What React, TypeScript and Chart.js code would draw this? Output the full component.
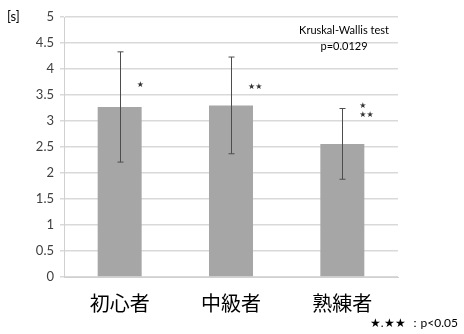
import React, { useEffect, useRef } from "react";
import { Chart, registerables } from "chart.js";

Chart.register(...registerables);

// Mean reaction time per skill group, with standard deviation
const categories = ["初心者", "中級者", "熟練者"];
const meanTimes = [3.27, 3.3, 2.56];
const sdTimes = [1.06, 0.93, 0.68];
const starMarks = [["★"], ["★★"], ["★", "★★"]];
const yTicks = [0, 0.5, 1, 1.5, 2, 2.5, 3, 3.5, 4, 4.5, 5];

const NUM_FONT = "Lato, 'Noto Sans', sans-serif";
const CJK_FONT = "'Noto Sans CJK JP', sans-serif";

const annotate = {
  id: "annotate",
  afterDatasetsDraw(chart: any) {
    const { ctx, scales } = chart;
    const y = scales.y;
    const meta = chart.getDatasetMeta(0);
    ctx.save();
    // error bars
    ctx.strokeStyle = "#4d4d4d";
    ctx.lineWidth = 1;
    meta.data.forEach((bar: any, i: number) => {
      const cx = Math.round(bar.x) + 0.5;
      const top = y.getPixelForValue(meanTimes[i] + sdTimes[i]);
      const bot = y.getPixelForValue(meanTimes[i] - sdTimes[i]);
      ctx.beginPath();
      ctx.moveTo(cx, top);
      ctx.lineTo(cx, bot);
      ctx.moveTo(cx - 3, top);
      ctx.lineTo(cx + 3, top);
      ctx.moveTo(cx - 3, bot);
      ctx.lineTo(cx + 3, bot);
      ctx.stroke();
    });
    // significance stars beside each bar
    const starOffsets = [-22, -18, -38];
    ctx.fillStyle = "#333";
    ctx.font = `8px 'DejaVu Sans', sans-serif`;
    ctx.textAlign = "left";
    ctx.textBaseline = "middle";
    meta.data.forEach((bar: any, i: number) => {
      starMarks[i].forEach((m, k) => {
        ctx.fillText(m, bar.x + 17, bar.y + starOffsets[i] + k * 9);
      });
    });
    ctx.restore();
  },
  afterDraw(chart: any) {
    const { ctx } = chart;
    ctx.save();
    ctx.fillStyle = "#000";
    ctx.textBaseline = "middle";
    ctx.font = `13px ${NUM_FONT}`;
    ctx.textAlign = "left";
    ctx.fillText("[s]", 7, 17);
    ctx.font = `11px ${NUM_FONT}`;
    ctx.textAlign = "center";
    ctx.fillText("Kruskal-Wallis test", 344, 30);
    ctx.fillText("p=0.0129", 344, 46);
    ctx.font = `12px ${NUM_FONT}`;
    ctx.textAlign = "right";
    ctx.fillText("★.★★ ：p<0.05", 458, 323);
    ctx.restore();
  },
};

export default function App() {
  const ref = useRef<HTMLCanvasElement>(null);
  useEffect(() => {
    document.body.style.margin = "0";
    const chart = new Chart(ref.current!, {
      type: "bar",
      data: {
        labels: categories,
        datasets: [
          {
            data: meanTimes,
            backgroundColor: "#a6a6a6",
            barPercentage: 0.79,
            categoryPercentage: 0.5,
          },
        ],
      },
      options: {
        animation: false,
        responsive: false,
        layout: { padding: { top: 17, right: 66, bottom: 0, left: 0 } },
        plugins: { legend: { display: false }, tooltip: { enabled: false } },
        scales: {
          x: {
            grid: { display: false },
            border: { color: "#d0d0d0" },
            ticks: {
              color: "#000",
              font: { family: CJK_FONT, size: 20 },
              padding: 6,
            },
            afterFit(scale: any) {
              scale.height = 57;
            },
          },
          y: {
            min: 0,
            max: 5,
            afterBuildTicks(scale: any) {
              scale.ticks = yTicks.map((v) => ({ value: v }));
            },
            grid: { color: "#d9d9d9", tickLength: 4, lineWidth: 1.5 },
            border: { color: "#d0d0d0" },
            ticks: {
              color: "#404040",
              font: { family: NUM_FONT, size: 13 },
              padding: 6,
              callback: (v: any) => String(v),
            },
            afterFit(scale: any) {
              scale.width = 64;
            },
          },
        },
      },
      plugins: [annotate],
    });
    return () => chart.destroy();
  }, []);
  return (
    <div style={{ width: 464, height: 334, background: "#fff" }}>
      <canvas ref={ref} width={464} height={334} />
    </div>
  );
}
